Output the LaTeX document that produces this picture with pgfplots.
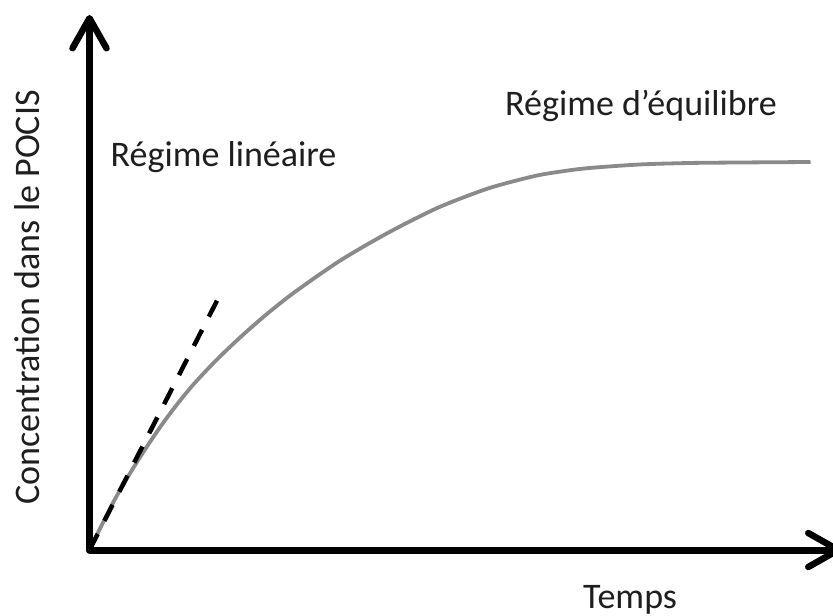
\documentclass[border=0pt]{standalone}
\usepackage{pgfplots}
\pgfplotsset{compat=1.18}
\usepackage{fontspec}
\setmainfont{Carlito}
\usetikzlibrary{arrows.meta}
\definecolor{curvegray}{HTML}{8A8A8A}
\definecolor{txt}{HTML}{1E1E1E}
\tikzset{lbl/.style={font=\fontsize{36}{43}\selectfont, text=txt, inner sep=0pt}}
\begin{document}
\begin{tikzpicture}
\path[use as bounding box] (-89.5pt,-66pt) rectangle (743.5pt,550pt);
\begin{axis}[
  scale only axis,
  width=752pt, height=535pt,
  xmin=0, xmax=752, ymin=0, ymax=535,
  axis lines=left,
  ticks=none,
  clip=false,
  axis line style={line width=7pt, black, line cap=round,
     -{Straight Barb[length=30pt,width=34pt,line width=6.5pt,round]}},
]
\addplot[curvegray, line width=3.8pt, smooth, no markers] coordinates {
(0,0) (25,50) (50,92) (75,129) (100,161) (125,188) (150,212) (175,234)
(200,254) (225,272) (250,289) (275,304) (300,318) (325,331) (350,343)
(375,353) (400,362) (425,369) (450,375) (475,379) (500,382) (550,385.5)
(600,387) (650,387.5) (721,388)
};
\addplot[black, line width=4.5pt, dash pattern=on 18pt off 14.75pt, no markers] coordinates {
(0,0) (127.5,249.3)
};
\node[lbl, anchor=base west] at (axis cs:21,383) {Régime linéaire};
\node[lbl, anchor=base west] at (axis cs:415.5,434) {Régime d’équilibre};
\node[lbl, anchor=base west] at (axis cs:493.5,-58) {Temps};
\node[lbl, anchor=base west, rotate=90] at (axis cs:-49.5,45) {Concentration dans le POCIS};
\end{axis}
\end{tikzpicture}
\end{document}
